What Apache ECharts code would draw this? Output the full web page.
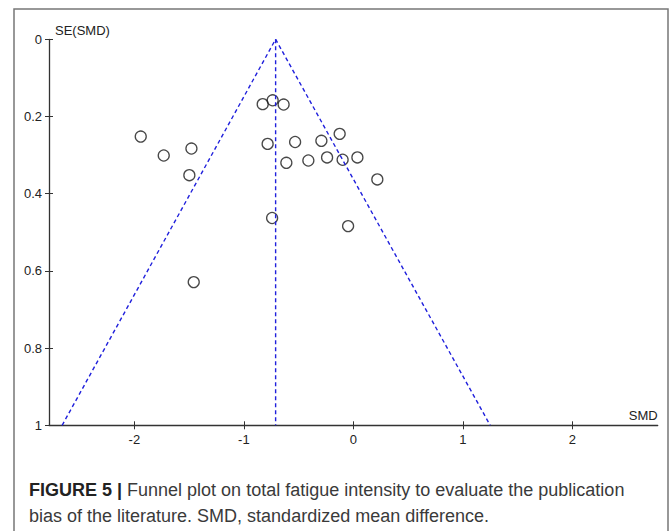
<!DOCTYPE html>
<html>
<head>
<meta charset="utf-8">
<script src="https://cdn.jsdelivr.net/npm/echarts@6/dist/echarts.min.js"></script>
<style>
   html, body { margin: 0; padding: 0; background: #fff; }
   #chart { width: 670px; height: 531px; }
</style>
</head>
<body>
<div id="chart"></div>
<script>
// study estimates
const smd = [-1.942, -1.732, -1.479, -1.498, -0.828, -0.737, -0.637, -0.783, -0.532, -0.612,
   -0.411, -0.292, -0.240, -0.125, -0.098, 0.037, 0.219, -0.742, -1.458, -0.048];
const seSmd = [0.252, 0.301, 0.283, 0.352, 0.168, 0.158, 0.169, 0.271, 0.266, 0.320,
   0.314, 0.263, 0.306, 0.245, 0.312, 0.306, 0.363, 0.463, 0.629, 0.484];
// funnel: pooled estimate and the 95% limits at SE = 1
const pooled = -0.71;
const funnelLow = -2.66;
const funnelHigh = 1.25;
const xTicks = [-2, -1, 0, 1, 2];
const yTicks = [0, 0.2, 0.4, 0.6, 0.8, 1];

const font = "'Liberation Sans', Arial, sans-serif";
const axisColor = '#333';
const funnelColor = '#2020dc';

const points = smd.map((x, i) => [x, seSmd[i]]);
const dashed = { color: funnelColor, width: 1.4, type: [4, 3] };

const chart = echarts.init(document.getElementById('chart'), null, { renderer: 'svg' });
const gridH = 386;
const gridW = 608.7;

chart.setOption({
   animation: false,
   grid: { left: 49, top: 39.3, width: gridW, height: gridH },
   xAxis: [
      {
         type: 'value', min: -2.78, max: 2.78, position: 'bottom',
         splitLine: { show: false },
         axisLine: { onZero: false, lineStyle: { color: axisColor, width: 1.3 } },
         axisTick: { customValues: xTicks, length: 4, lineStyle: { color: axisColor } },
         axisLabel: { customValues: xTicks, margin: 8, color: '#222', fontSize: 13, fontFamily: font },
         name: 'SMD', nameLocation: 'end', nameGap: 0,
         nameTextStyle: { align: 'right', verticalAlign: 'bottom', padding: [0, 0, 3, 0],
            color: '#222', fontSize: 13, fontFamily: font }
      },
      {
         // upper half of the crossing ticks
         type: 'value', min: -2.78, max: 2.78, position: 'top', offset: -gridH,
         splitLine: { show: false }, axisLine: { show: false, onZero: false },
         axisTick: { customValues: xTicks, length: 4, lineStyle: { color: axisColor } },
         axisLabel: { show: false }
      }
   ],
   yAxis: [
      {
         type: 'value', min: 0, max: 1, inverse: true, position: 'left',
         splitLine: { show: false },
         axisLine: { show: true, onZero: false, lineStyle: { color: axisColor, width: 1.3 } },
         axisTick: { show: true, customValues: yTicks, length: 4, lineStyle: { color: axisColor } },
         axisLabel: { customValues: yTicks, margin: 7, color: '#222', fontSize: 13, fontFamily: font,
            formatter: v => String(v) },
         name: 'SE(SMD)', nameLocation: 'start', nameGap: 2,
         nameTextStyle: { align: 'left', verticalAlign: 'bottom', padding: [0, 0, 0, 6],
            color: '#222', fontSize: 13, fontFamily: font }
      },
      {
         type: 'value', min: 0, max: 1, inverse: true, position: 'right', offset: -gridW,
         splitLine: { show: false }, axisLine: { show: false, onZero: false },
         axisTick: { show: true, customValues: yTicks, length: 4, lineStyle: { color: axisColor } },
         axisLabel: { show: false }
      }
   ],
   series: [
      {
         type: 'line', symbol: 'none', silent: true, lineStyle: dashed,
         data: [[funnelLow, 1], [pooled, 0], [funnelHigh, 1]]
      },
      {
         type: 'line', symbol: 'none', silent: true, lineStyle: dashed,
         data: [[pooled, 0], [pooled, 1]]
      },
      {
         type: 'scatter', symbol: 'circle', symbolSize: 11,
         itemStyle: { color: 'rgba(0,0,0,0)', borderColor: '#1a1a1a', borderWidth: 1.3 },
         data: points
      }
   ],
   graphic: [
      {
         type: 'rect', silent: true,
         shape: { x: 14, y: 9, width: 654, height: 540 },
         style: { fill: 'none', stroke: '#777', lineWidth: 1.5 }
      },
      {
         type: 'text', left: 29, top: 477,
         style: {
            text: '{b|FIGURE 5 |} Funnel plot on total fatigue intensity to evaluate the publication\nbias of the literature. SMD, standardized mean difference.',
            font: '18px ' + font, fill: '#3a3a3a', lineHeight: 26,
            rich: { b: { fontWeight: 'bold', fill: '#222', fontSize: 18, fontFamily: font } }
         }
      }
   ]
});
</script>
</body>
</html>
